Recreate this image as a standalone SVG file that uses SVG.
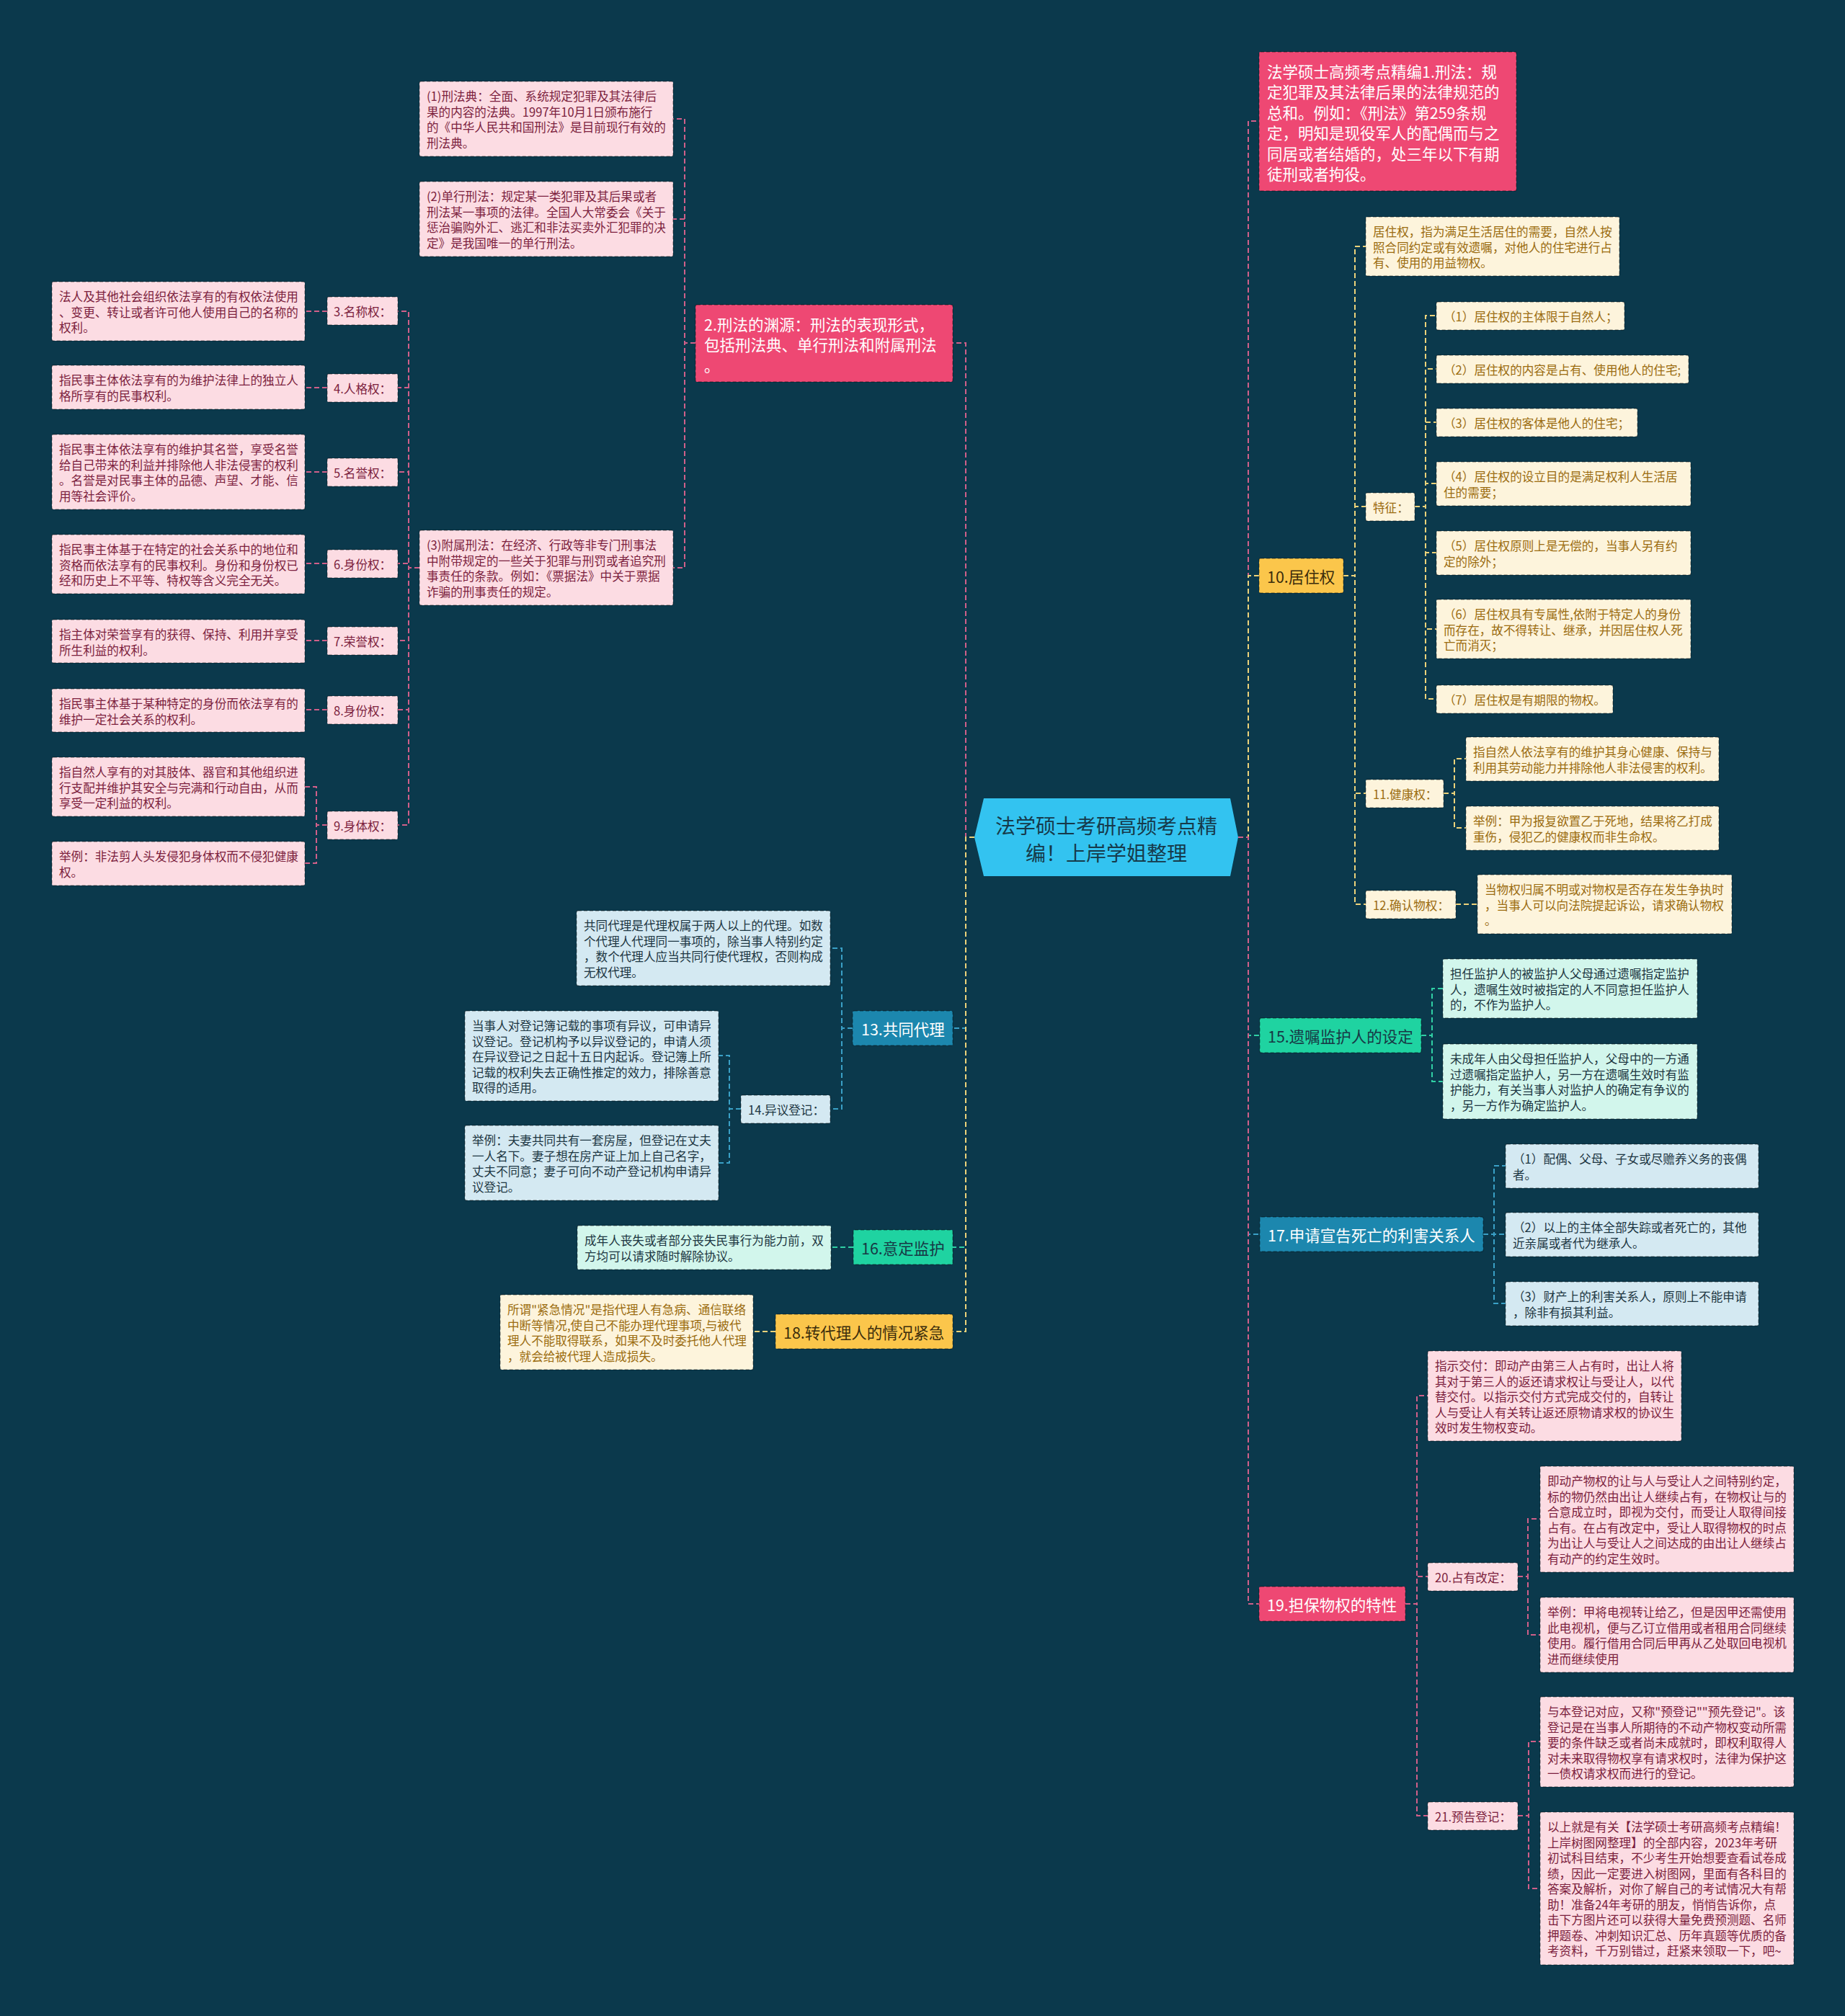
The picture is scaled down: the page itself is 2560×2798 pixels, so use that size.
<svg xmlns="http://www.w3.org/2000/svg" width="2560" height="2798" viewBox="0 0 2560 2798">
<style>
text{font-family:"Noto Sans CJK SC","Noto Sans",sans-serif;dominant-baseline:central}
.t{font-size:16.6px}
.h{font-size:21.5px}
.c{font-size:28px;fill:#163a4a;text-anchor:middle}
.b{stroke:rgba(0,0,0,0.35);stroke-width:1.4;stroke-dasharray:5 3}
.pk{fill:#ee4873}.pkl{fill:#fcdce3}.tpk{fill:#7c1f3e}
.bl{fill:#1c87ae}.bll{fill:#d4e9f2}.tbl{fill:#1d3642}
.gr{fill:#1fd3a1}.grl{fill:#d2f6ec}
.ye{fill:#fbc64b}.yel{fill:#fdf4dc}.tye{fill:#9b6c10}
.tw{fill:#ffffff}.td{fill:#173845}.tdy{fill:#3b2d0c}
#edges path{fill:none;stroke-width:2;stroke-dasharray:7 4}
.ep{stroke:#d05f89}.ey{stroke:#ecd27a}.eb{stroke:#3aa0c6}.eg{stroke:#30cfa4}
</style>
<rect width="2560" height="2798" fill="#0b394c"/>

<g id="edges">
<!-- center left -->
<path class="ep" d="M1352,1162 H1340 V476 H1322"/>
<path class="eb" d="M1352,1162 H1340 V1427 H1322"/>
<path class="eg" d="M1352,1162 H1340 V1731 H1322"/>
<path class="ey" d="M1352,1162 H1340 V1848 H1322"/>
<!-- center right -->
<path class="ep" d="M1718,1162 H1732 V168 H1747"/>
<path class="eg" d="M1718,1162 H1732 V1437 H1748"/>
<path class="eb" d="M1718,1162 H1732 V1713 H1748"/>
<path class="ey" d="M1718,1162 H1732 V799 H1747"/>
<path class="ep" d="M1718,1162 H1732 V2226 H1747"/>
<!-- node 2 subtree -->
<path class="ep" d="M965,476 H950 V165 H934"/>
<path class="ep" d="M965,476 H950 V304 H934"/>
<path class="ep" d="M965,476 H950 V788 H934"/>
<path class="ep" d="M582,788 H567 V432 H552"/>
<path class="ep" d="M582,788 H567 V538 H552"/>
<path class="ep" d="M582,788 H567 V655 H552"/>
<path class="ep" d="M582,788 H567 V782 H552"/>
<path class="ep" d="M582,788 H567 V889 H552"/>
<path class="ep" d="M582,788 H567 V985 H552"/>
<path class="ep" d="M582,788 H567 V1145 H552"/>
<path class="ep" d="M454,432 H423"/>
<path class="ep" d="M454,538 H423"/>
<path class="ep" d="M454,655 H423"/>
<path class="ep" d="M454,782 H423"/>
<path class="ep" d="M454,889 H423"/>
<path class="ep" d="M454,985 H423"/>
<path class="ep" d="M454,1145 H439 V1092 H423"/>
<path class="ep" d="M454,1145 H439 V1198 H423"/>
<!-- 13 subtree -->
<path class="eb" d="M1183,1427 H1168 V1316 H1152"/>
<path class="eb" d="M1183,1427 H1168 V1539 H1152"/>
<path class="eb" d="M1028,1539 H1012 V1465 H997"/>
<path class="eb" d="M1028,1539 H1012 V1614 H997"/>
<path class="eg" d="M1184,1731 H1153"/>
<path class="ey" d="M1076,1848 H1045"/>
<!-- 10 subtree -->
<path class="ey" d="M1864,799 H1880 V342 H1895"/>
<path class="ey" d="M1864,799 H1880 V703 H1895"/>
<path class="ey" d="M1864,799 H1880 V1101 H1895"/>
<path class="ey" d="M1864,799 H1880 V1255 H1895"/>
<path class="ey" d="M1963,703 H1978 V438 H1993"/>
<path class="ey" d="M1963,703 H1978 V512 H1993"/>
<path class="ey" d="M1963,703 H1978 V586 H1993"/>
<path class="ey" d="M1963,703 H1978 V671 H1993"/>
<path class="ey" d="M1963,703 H1978 V767 H1993"/>
<path class="ey" d="M1963,703 H1978 V873 H1993"/>
<path class="ey" d="M1963,703 H1978 V970 H1993"/>
<path class="ey" d="M2003,1101 H2018 V1053 H2034"/>
<path class="ey" d="M2003,1101 H2018 V1149 H2034"/>
<path class="ey" d="M2020,1255 H2050"/>
<!-- 15 / 17 -->
<path class="eg" d="M1972,1437 H1987 V1372 H2002"/>
<path class="eg" d="M1972,1437 H1987 V1501 H2002"/>
<path class="eb" d="M2058,1713 H2073 V1618 H2089"/>
<path class="eb" d="M2058,1713 H2073 V1713 H2089"/>
<path class="eb" d="M2058,1713 H2073 V1809 H2089"/>
<!-- 19 subtree -->
<path class="ep" d="M1950,2226 H1966 V1937 H1981"/>
<path class="ep" d="M1950,2226 H1966 V2188 H1981"/>
<path class="ep" d="M1950,2226 H1966 V2520 H1981"/>
<path class="ep" d="M2106,2188 H2120 V2108 H2137"/>
<path class="ep" d="M2106,2188 H2120 V2269 H2137"/>
<path class="ep" d="M2106,2520 H2121 V2417 H2137"/>
<path class="ep" d="M2106,2520 H2121 V2621 H2137"/>
</g>

<g id="center">
<polygon points="1352,1162 1365,1108 1707,1108 1718,1162 1707,1216 1365,1216" fill="#33c3f0"/>
<text class="c" x="1535" y="1145">法学硕士考研高频考点精</text>
<text class="c" x="1535" y="1183">编！上岸学姐整理</text>
</g>

<!-- LEFT: node 2 subtree -->
<g id="n2">
<rect class="pk b" x="965" y="423" width="357" height="107" rx="2"/>
<text class="h tw" x="977" y="449">2.刑法的渊源：刑法的表现形式，</text>
<text class="h tw" x="977" y="477.5">包括刑法典、单行刑法和附属刑法</text>
<text class="h tw" x="977" y="506">。</text>
</g>
<g id="n2a">
<rect class="pkl b" x="582" y="113" width="352" height="104" rx="2"/>
<text class="t tpk" x="592" y="133">(1)刑法典：全面、系统规定犯罪及其法律后</text>
<text class="t tpk" x="592" y="154.5">果的内容的法典。1997年10月1日颁布施行</text>
<text class="t tpk" x="592" y="176">的《中华人民共和国刑法》是目前现行有效的</text>
<text class="t tpk" x="592" y="197.5">刑法典。</text>
</g>
<g id="n2b">
<rect class="pkl b" x="582" y="252" width="352" height="104" rx="2"/>
<text class="t tpk" x="592" y="272">(2)单行刑法：规定某一类犯罪及其后果或者</text>
<text class="t tpk" x="592" y="293.5">刑法某一事项的法律。全国人大常委会《关于</text>
<text class="t tpk" x="592" y="315">惩治骗购外汇、逃汇和非法买卖外汇犯罪的决</text>
<text class="t tpk" x="592" y="336.5">定》是我国唯一的单行刑法。</text>
</g>
<g id="n2c">
<rect class="pkl b" x="582" y="736" width="352" height="104" rx="2"/>
<text class="t tpk" x="592" y="756">(3)附属刑法：在经济、行政等非专门刑事法</text>
<text class="t tpk" x="592" y="777.5">中附带规定的一些关于犯罪与刑罚或者追究刑</text>
<text class="t tpk" x="592" y="799">事责任的条款。例如：《票据法》中关于票据</text>
<text class="t tpk" x="592" y="820.5">诈骗的刑事责任的规定。</text>
</g>

<g id="k3"><rect class="pkl b" x="454" y="412" width="98" height="39" rx="2"/><text class="t tpk" x="463" y="431.5">3.名称权：</text></g>
<g id="k4"><rect class="pkl b" x="454" y="519" width="98" height="39" rx="2"/><text class="t tpk" x="463" y="538.5">4.人格权：</text></g>
<g id="k5"><rect class="pkl b" x="454" y="636" width="98" height="39" rx="2"/><text class="t tpk" x="463" y="655.5">5.名誉权：</text></g>
<g id="k6"><rect class="pkl b" x="454" y="763" width="98" height="39" rx="2"/><text class="t tpk" x="463" y="782.5">6.身份权：</text></g>
<g id="k7"><rect class="pkl b" x="454" y="870" width="98" height="39" rx="2"/><text class="t tpk" x="463" y="889.5">7.荣誉权：</text></g>
<g id="k8"><rect class="pkl b" x="454" y="966" width="98" height="39" rx="2"/><text class="t tpk" x="463" y="985.5">8.身份权：</text></g>
<g id="k9"><rect class="pkl b" x="454" y="1126" width="98" height="39" rx="2"/><text class="t tpk" x="463" y="1145.5">9.身体权：</text></g>

<g id="l3">
<rect class="pkl b" x="72" y="391" width="351" height="82" rx="2"/>
<text class="t tpk" x="82" y="411">法人及其他社会组织依法享有的有权依法使用</text>
<text class="t tpk" x="82" y="432.5">、变更、转让或者许可他人使用自己的名称的</text>
<text class="t tpk" x="82" y="454">权利。</text>
</g>
<g id="l4">
<rect class="pkl b" x="72" y="507" width="351" height="61" rx="2"/>
<text class="t tpk" x="82" y="527">指民事主体依法享有的为维护法律上的独立人</text>
<text class="t tpk" x="82" y="548.5">格所享有的民事权利。</text>
</g>
<g id="l5">
<rect class="pkl b" x="72" y="603" width="351" height="104" rx="2"/>
<text class="t tpk" x="82" y="623">指民事主体依法享有的维护其名誉，享受名誉</text>
<text class="t tpk" x="82" y="644.5">给自己带来的利益并排除他人非法侵害的权利</text>
<text class="t tpk" x="82" y="666">。名誉是对民事主体的品德、声望、才能、信</text>
<text class="t tpk" x="82" y="687.5">用等社会评价。</text>
</g>
<g id="l6">
<rect class="pkl b" x="72" y="742" width="351" height="82" rx="2"/>
<text class="t tpk" x="82" y="762">指民事主体基于在特定的社会关系中的地位和</text>
<text class="t tpk" x="82" y="783.5">资格而依法享有的民事权利。身份和身份权已</text>
<text class="t tpk" x="82" y="805">经和历史上不平等、特权等含义完全无关。</text>
</g>
<g id="l7">
<rect class="pkl b" x="72" y="860" width="351" height="60" rx="2"/>
<text class="t tpk" x="82" y="880">指主体对荣誉享有的获得、保持、利用并享受</text>
<text class="t tpk" x="82" y="901.5">所生利益的权利。</text>
</g>
<g id="l8">
<rect class="pkl b" x="72" y="956" width="351" height="60" rx="2"/>
<text class="t tpk" x="82" y="976">指民事主体基于某种特定的身份而依法享有的</text>
<text class="t tpk" x="82" y="997.5">维护一定社会关系的权利。</text>
</g>
<g id="l9a">
<rect class="pkl b" x="72" y="1051" width="351" height="82" rx="2"/>
<text class="t tpk" x="82" y="1071">指自然人享有的对其肢体、器官和其他组织进</text>
<text class="t tpk" x="82" y="1092.5">行支配并维护其安全与完满和行动自由，从而</text>
<text class="t tpk" x="82" y="1114">享受一定利益的权利。</text>
</g>
<g id="l9b">
<rect class="pkl b" x="72" y="1168" width="351" height="61" rx="2"/>
<text class="t tpk" x="82" y="1188">举例：非法剪人头发侵犯身体权而不侵犯健康</text>
<text class="t tpk" x="82" y="1209.5">权。</text>
</g>

<!-- LEFT lower -->
<g id="n13">
<rect class="bl b" x="1183" y="1403" width="139" height="48" rx="2"/>
<text class="h tw" x="1195" y="1427">13.共同代理</text>
</g>
<g id="n13a">
<rect class="bll b" x="800" y="1264" width="352" height="104" rx="2"/>
<text class="t tbl" x="810" y="1284">共同代理是代理权属于两人以上的代理。如数</text>
<text class="t tbl" x="810" y="1305.5">个代理人代理同一事项的，除当事人特别约定</text>
<text class="t tbl" x="810" y="1327">，数个代理人应当共同行使代理权，否则构成</text>
<text class="t tbl" x="810" y="1348.5">无权代理。</text>
</g>
<g id="n14"><rect class="bll b" x="1028" y="1520" width="124" height="39" rx="2"/><text class="t tbl" x="1038" y="1539.5">14.异议登记：</text></g>
<g id="n14a">
<rect class="bll b" x="645" y="1403" width="352" height="125" rx="2"/>
<text class="t tbl" x="655" y="1423">当事人对登记簿记载的事项有异议，可申请异</text>
<text class="t tbl" x="655" y="1444.5">议登记。登记机构予以异议登记的，申请人须</text>
<text class="t tbl" x="655" y="1466">在异议登记之日起十五日内起诉。登记簿上所</text>
<text class="t tbl" x="655" y="1487.5">记载的权利失去正确性推定的效力，排除善意</text>
<text class="t tbl" x="655" y="1509">取得的适用。</text>
</g>
<g id="n14b">
<rect class="bll b" x="645" y="1562" width="352" height="104" rx="2"/>
<text class="t tbl" x="655" y="1582">举例：夫妻共同共有一套房屋，但登记在丈夫</text>
<text class="t tbl" x="655" y="1603.5">一人名下。妻子想在房产证上加上自己名字，</text>
<text class="t tbl" x="655" y="1625">丈夫不同意；妻子可向不动产登记机构申请异</text>
<text class="t tbl" x="655" y="1646.5">议登记。</text>
</g>
<g id="n16">
<rect class="gr b" x="1184" y="1707" width="138" height="48" rx="2"/>
<text class="h td" x="1195" y="1731">16.意定监护</text>
</g>
<g id="n16a">
<rect class="grl b" x="801" y="1701" width="352" height="61" rx="2"/>
<text class="t tbl" x="811" y="1721">成年人丧失或者部分丧失民事行为能力前，双</text>
<text class="t tbl" x="811" y="1742.5">方均可以请求随时解除协议。</text>
</g>
<g id="n18">
<rect class="ye b" x="1076" y="1824" width="246" height="48" rx="2"/>
<text class="h tdy" x="1087" y="1848">18.转代理人的情况紧急</text>
</g>
<g id="n18a">
<rect class="yel b" x="694" y="1797" width="351" height="104" rx="2"/>
<text class="t tye" x="704" y="1817">所谓"紧急情况"是指代理人有急病、通信联络</text>
<text class="t tye" x="704" y="1838.5">中断等情况,使自己不能办理代理事项,与被代</text>
<text class="t tye" x="704" y="1860">理人不能取得联系，如果不及时委托他人代理</text>
<text class="t tye" x="704" y="1881.5">，就会给被代理人造成损失。</text>
</g>

<!-- RIGHT -->
<g id="n1">
<rect class="pk b" x="1747" y="72" width="357" height="193" rx="2"/>
<text class="h tw" x="1758" y="98">法学硕士高频考点精编1.刑法：规</text>
<text class="h tw" x="1758" y="126.5">定犯罪及其法律后果的法律规范的</text>
<text class="h tw" x="1758" y="155">总和。例如：《刑法》第259条规</text>
<text class="h tw" x="1758" y="183.5">定，明知是现役军人的配偶而与之</text>
<text class="h tw" x="1758" y="212">同居或者结婚的，处三年以下有期</text>
<text class="h tw" x="1758" y="240.5">徒刑或者拘役。</text>
</g>
<g id="n10">
<rect class="ye b" x="1747" y="775" width="117" height="48" rx="2"/>
<text class="h tdy" x="1758" y="799">10.居住权</text>
</g>
<g id="n10a">
<rect class="yel b" x="1895" y="301" width="352" height="82" rx="2"/>
<text class="t tye" x="1905" y="321">居住权，指为满足生活居住的需要，自然人按</text>
<text class="t tye" x="1905" y="342.5">照合同约定或有效遗嘱，对他人的住宅进行占</text>
<text class="t tye" x="1905" y="364">有、使用的用益物权。</text>
</g>
<g id="tz"><rect class="yel b" x="1895" y="684" width="68" height="39" rx="2"/><text class="t tye" x="1905" y="703.5">特征：</text></g>
<g id="f1"><rect class="yel b" x="1993" y="419" width="261" height="39" rx="2"/><text class="t tye" x="2003" y="438.5">（1）居住权的主体限于自然人；</text></g>
<g id="f2"><rect class="yel b" x="1993" y="493" width="350" height="39" rx="2"/><text class="t tye" x="2003" y="512.5">（2）居住权的内容是占有、使用他人的住宅;</text></g>
<g id="f3"><rect class="yel b" x="1993" y="567" width="279" height="39" rx="2"/><text class="t tye" x="2003" y="586.5">（3）居住权的客体是他人的住宅；</text></g>
<g id="f4">
<rect class="yel b" x="1993" y="641" width="353" height="61" rx="2"/>
<text class="t tye" x="2003" y="661">（4）居住权的设立目的是满足权利人生活居</text>
<text class="t tye" x="2003" y="682.5">住的需要；</text>
</g>
<g id="f5">
<rect class="yel b" x="1993" y="737" width="353" height="61" rx="2"/>
<text class="t tye" x="2003" y="757">（5）居住权原则上是无偿的，当事人另有约</text>
<text class="t tye" x="2003" y="778.5">定的除外；</text>
</g>
<g id="f6">
<rect class="yel b" x="1993" y="832" width="353" height="82" rx="2"/>
<text class="t tye" x="2003" y="852">（6）居住权具有专属性,依附于特定人的身份</text>
<text class="t tye" x="2003" y="873.5">而存在，故不得转让、继承，并因居住权人死</text>
<text class="t tye" x="2003" y="895">亡而消灭；</text>
</g>
<g id="f7"><rect class="yel b" x="1993" y="951" width="245" height="39" rx="2"/><text class="t tye" x="2003" y="970.5">（7）居住权是有期限的物权。</text></g>
<g id="n11"><rect class="yel b" x="1895" y="1082" width="108" height="39" rx="2"/><text class="t tye" x="1905" y="1101.5">11.健康权：</text></g>
<g id="n11a">
<rect class="yel b" x="2034" y="1023" width="351" height="61" rx="2"/>
<text class="t tye" x="2044" y="1043">指自然人依法享有的维护其身心健康、保持与</text>
<text class="t tye" x="2044" y="1064.5">利用其劳动能力并排除他人非法侵害的权利。</text>
</g>
<g id="n11b">
<rect class="yel b" x="2034" y="1119" width="351" height="61" rx="2"/>
<text class="t tye" x="2044" y="1139">举例：甲为报复欲置乙于死地，结果将乙打成</text>
<text class="t tye" x="2044" y="1160.5">重伤，侵犯乙的健康权而非生命权。</text>
</g>
<g id="n12"><rect class="yel b" x="1895" y="1236" width="125" height="39" rx="2"/><text class="t tye" x="1905" y="1255.5">12.确认物权：</text></g>
<g id="n12a">
<rect class="yel b" x="2050" y="1214" width="353" height="82" rx="2"/>
<text class="t tye" x="2060" y="1234">当物权归属不明或对物权是否存在发生争执时</text>
<text class="t tye" x="2060" y="1255.5">，当事人可以向法院提起诉讼，请求确认物权</text>
<text class="t tye" x="2060" y="1277">。</text>
</g>

<g id="n15">
<rect class="gr b" x="1748" y="1413" width="224" height="48" rx="2"/>
<text class="h td" x="1759" y="1437">15.遗嘱监护人的设定</text>
</g>
<g id="n15a">
<rect class="grl b" x="2002" y="1331" width="353" height="82" rx="2"/>
<text class="t tbl" x="2012" y="1351">担任监护人的被监护人父母通过遗嘱指定监护</text>
<text class="t tbl" x="2012" y="1372.5">人，遗嘱生效时被指定的人不同意担任监护人</text>
<text class="t tbl" x="2012" y="1394">的，不作为监护人。</text>
</g>
<g id="n15b">
<rect class="grl b" x="2002" y="1449" width="353" height="104" rx="2"/>
<text class="t tbl" x="2012" y="1469">未成年人由父母担任监护人，父母中的一方通</text>
<text class="t tbl" x="2012" y="1490.5">过遗嘱指定监护人，另一方在遗嘱生效时有监</text>
<text class="t tbl" x="2012" y="1512">护能力，有关当事人对监护人的确定有争议的</text>
<text class="t tbl" x="2012" y="1533.5">，另一方作为确定监护人。</text>
</g>

<g id="n17">
<rect class="bl b" x="1748" y="1689" width="310" height="48" rx="2"/>
<text class="h tw" x="1759" y="1713">17.申请宣告死亡的利害关系人</text>
</g>
<g id="n17a">
<rect class="bll b" x="2089" y="1588" width="351" height="61" rx="2"/>
<text class="t tbl" x="2099" y="1608">（1）配偶、父母、子女或尽赡养义务的丧偶</text>
<text class="t tbl" x="2099" y="1629.5">者。</text>
</g>
<g id="n17b">
<rect class="bll b" x="2089" y="1683" width="351" height="61" rx="2"/>
<text class="t tbl" x="2099" y="1703">（2）以上的主体全部失踪或者死亡的，其他</text>
<text class="t tbl" x="2099" y="1724.5">近亲属或者代为继承人。</text>
</g>
<g id="n17c">
<rect class="bll b" x="2089" y="1779" width="351" height="61" rx="2"/>
<text class="t tbl" x="2099" y="1799">（3）财产上的利害关系人，原则上不能申请</text>
<text class="t tbl" x="2099" y="1820.5">，除非有损其利益。</text>
</g>

<g id="n19">
<rect class="pk b" x="1747" y="2202" width="203" height="48" rx="2"/>
<text class="h tw" x="1758" y="2226">19.担保物权的特性</text>
</g>
<g id="n19a">
<rect class="pkl b" x="1981" y="1875" width="352" height="125" rx="2"/>
<text class="t tpk" x="1991" y="1895">指示交付：即动产由第三人占有时，出让人将</text>
<text class="t tpk" x="1991" y="1916.5">其对于第三人的返还请求权让与受让人，以代</text>
<text class="t tpk" x="1991" y="1938">替交付。以指示交付方式完成交付的，自转让</text>
<text class="t tpk" x="1991" y="1959.5">人与受让人有关转让返还原物请求权的协议生</text>
<text class="t tpk" x="1991" y="1981">效时发生物权变动。</text>
</g>
<g id="n20"><rect class="pkl b" x="1981" y="2169" width="125" height="39" rx="2"/><text class="t tpk" x="1991" y="2188.5">20.占有改定：</text></g>
<g id="n20a">
<rect class="pkl b" x="2137" y="2035" width="352" height="147" rx="2"/>
<text class="t tpk" x="2147" y="2055">即动产物权的让与人与受让人之间特别约定，</text>
<text class="t tpk" x="2147" y="2076.5">标的物仍然由出让人继续占有，在物权让与的</text>
<text class="t tpk" x="2147" y="2098">合意成立时，即视为交付，而受让人取得间接</text>
<text class="t tpk" x="2147" y="2119.5">占有。在占有改定中，受让人取得物权的时点</text>
<text class="t tpk" x="2147" y="2141">为出让人与受让人之间达成的由出让人继续占</text>
<text class="t tpk" x="2147" y="2162.5">有动产的约定生效时。</text>
</g>
<g id="n20b">
<rect class="pkl b" x="2137" y="2217" width="352" height="104" rx="2"/>
<text class="t tpk" x="2147" y="2237">举例：甲将电视转让给乙，但是因甲还需使用</text>
<text class="t tpk" x="2147" y="2258.5">此电视机，便与乙订立借用或者租用合同继续</text>
<text class="t tpk" x="2147" y="2280">使用。履行借用合同后甲再从乙处取回电视机</text>
<text class="t tpk" x="2147" y="2301.5">进而继续使用</text>
</g>
<g id="n21"><rect class="pkl b" x="1981" y="2501" width="125" height="39" rx="2"/><text class="t tpk" x="1991" y="2520.5">21.预告登记：</text></g>
<g id="n21a">
<rect class="pkl b" x="2137" y="2355" width="352" height="125" rx="2"/>
<text class="t tpk" x="2147" y="2375">与本登记对应，又称"预登记""预先登记"。该</text>
<text class="t tpk" x="2147" y="2396.5">登记是在当事人所期待的不动产物权变动所需</text>
<text class="t tpk" x="2147" y="2418">要的条件缺乏或者尚未成就时，即权利取得人</text>
<text class="t tpk" x="2147" y="2439.5">对未来取得物权享有请求权时，法律为保护这</text>
<text class="t tpk" x="2147" y="2461">一债权请求权而进行的登记。</text>
</g>
<g id="n21b">
<rect class="pkl b" x="2137" y="2515" width="352" height="212" rx="2"/>
<text class="t tpk" x="2147" y="2535">以上就是有关【法学硕士考研高频考点精编！</text>
<text class="t tpk" x="2147" y="2556.5">上岸树图网整理】的全部内容，2023年考研</text>
<text class="t tpk" x="2147" y="2578">初试科目结束，不少考生开始想要查看试卷成</text>
<text class="t tpk" x="2147" y="2599.5">绩，因此一定要进入树图网，里面有各科目的</text>
<text class="t tpk" x="2147" y="2621">答案及解析，对你了解自己的考试情况大有帮</text>
<text class="t tpk" x="2147" y="2642.5">助！准备24年考研的朋友，悄悄告诉你，点</text>
<text class="t tpk" x="2147" y="2664">击下方图片还可以获得大量免费预测题、名师</text>
<text class="t tpk" x="2147" y="2685.5">押题卷、冲刺知识汇总、历年真题等优质的备</text>
<text class="t tpk" x="2147" y="2707">考资料，千万别错过，赶紧来领取一下，吧~</text>
</g>
</svg>
